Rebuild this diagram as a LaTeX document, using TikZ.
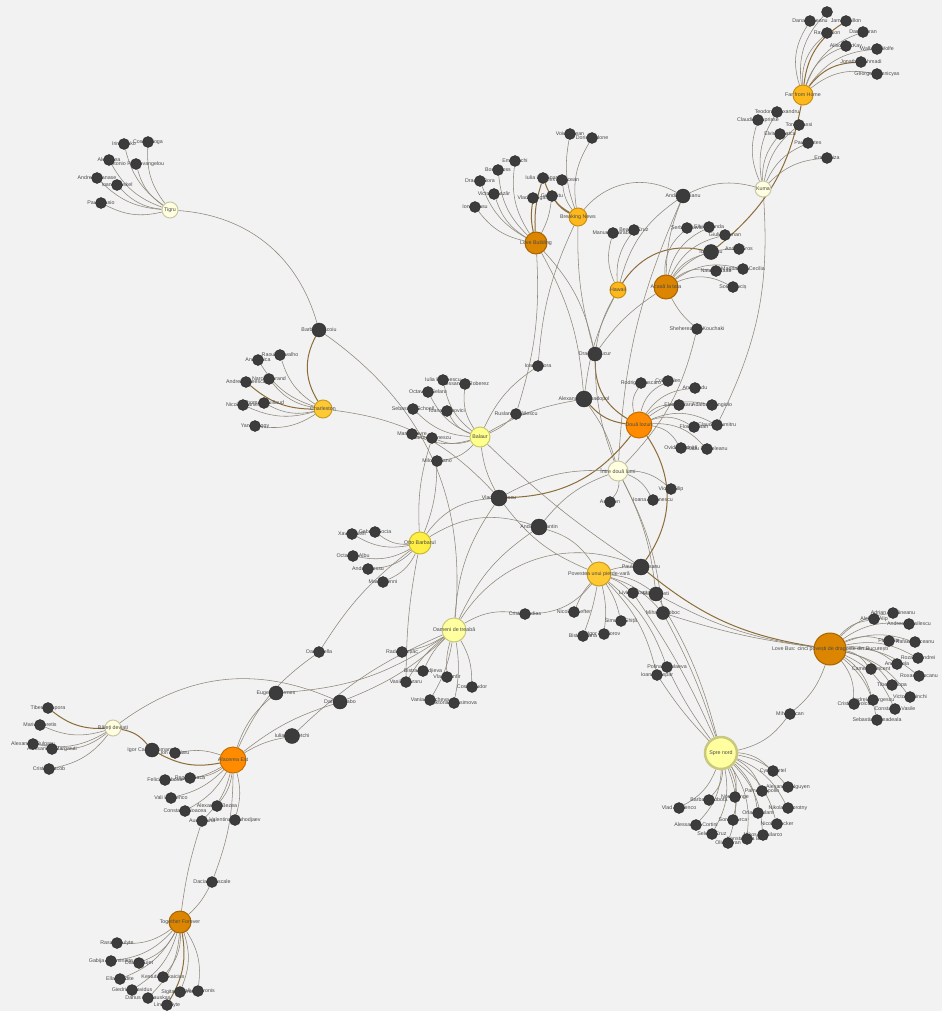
\documentclass[tikz,border=0pt]{standalone}
\usepackage{fontspec}
\setmainfont{Liberation Sans}
\definecolor{bgC}{HTML}{F2F2F2}
\definecolor{actC}{HTML}{3C3C3C}
\definecolor{actB}{HTML}{2A2A2A}
\definecolor{labC}{HTML}{4A4A4A}
\definecolor{edC}{HTML}{8E8678}
\definecolor{ebC}{HTML}{8C6C38}
\definecolor{cOY}{HTML}{FFB81C}\definecolor{bOY}{HTML}{C98E10}
\definecolor{cDO}{HTML}{DB8500}\definecolor{bDO}{HTML}{A86400}
\definecolor{cOr}{HTML}{FF8C00}\definecolor{bOr}{HTML}{C86E00}
\definecolor{cGo}{HTML}{FFC933}\definecolor{bGo}{HTML}{C89E26}
\definecolor{cCr}{HTML}{FFFFE0}\definecolor{bCr}{HTML}{C8C8A8}
\definecolor{cLY}{HTML}{FFFF8C}\definecolor{bLY}{HTML}{C8C86E}
\definecolor{cYe}{HTML}{FFEE44}\definecolor{bYe}{HTML}{C8BA35}
\definecolor{cPY}{HTML}{FFFFA0}\definecolor{bPY}{HTML}{C8C87E}
\pgfdeclarelayer{bg}\pgfdeclarelayer{edges}\pgfdeclarelayer{alab}\pgfdeclarelayer{flab}
\pgfsetlayers{bg,edges,alab,main,flab}
\tikzset{
 actor/.style={circle,fill=actC,draw=actB,line width=0.4pt,inner sep=0pt},
 film/.style={circle,line width=1pt,inner sep=0pt},
 alab/.style={font=\fontsize{5.3}{6}\selectfont,text=labC,inner sep=0pt},
 flab/.style={font=\fontsize{5.3}{6}\selectfont,text=labC,inner sep=0pt},
 edg/.style={draw=edC,line width=0.55pt},
 edgb/.style={draw=ebC,line width=1pt},
}
\newcommand{\mkact}[5][5.5]{%
  \node[actor,minimum size={2*#1pt}] (#2) at (#3,#4) {};
  \begin{pgfonlayer}{alab}\node[alab] at (#3,#4) {#5};\end{pgfonlayer}}
\newcommand{\mkfilm}[7]{%
  \node[film,fill=#5,#6,minimum size={2*#4pt}] (#1) at (#2,#3) {};
  \begin{pgfonlayer}{flab}\node[flab] at (#2,#3) {#7};\end{pgfonlayer}}
\newcommand{\EE}[3][20]{\draw[edg] (#2) to[bend left=#1] (#3);}
\newcommand{\BB}[3][20]{\draw[edgb] (#2) to[bend left=#1] (#3);}
\begin{document}
\begin{tikzpicture}[x=1pt,y=-1pt]
\useasboundingbox (0,0) rectangle (942,1011);
\begin{pgfonlayer}{bg}\fill[bgC] (0,0) rectangle (942,1011);\end{pgfonlayer}
% films
\mkfilm{ffh}{803}{95}{10}{cOY}{draw=bOY}{Far from Home}
\mkfilm{kuma}{763}{189}{8}{cCr}{draw=bCr}{Kuma}
\mkfilm{bn}{578}{217}{9}{cOY}{draw=bOY}{Breaking News}
\mkfilm{lb}{536}{243}{11}{cDO}{draw=bDO}{Love Building}
\mkfilm{haw}{618}{290}{8}{cOY}{draw=bOY}{Hawaii}
\mkfilm{acasa}{666}{287}{12}{cDO}{draw=bDO}{Acasă la tata}
\mkfilm{tigru}{170}{210}{8}{cCr}{draw=bCr}{Tigru}
\mkfilm{charl}{323}{409}{9}{cGo}{draw=bGo}{Charleston}
\mkfilm{balaur}{480}{437}{10}{cLY}{draw=bLY}{Balaur}
\mkfilm{doua}{639}{425}{13}{cOr}{draw=bOr}{Două lozuri}
\mkfilm{intre}{618}{471}{10}{cCr}{draw=bCr}{Între două lumi}
\mkfilm{otto}{420}{543}{11}{cYe}{draw=bYe}{Otto Barbarul}
\mkfilm{pov}{599}{574}{12}{cGo}{draw=bGo}{Povestea unui pierde-vară}
\mkfilm{oam}{454}{630}{12}{cPY}{draw=bPY}{Oameni de treabă}
\mkfilm{lbus}{830}{649}{16}{cDO}{draw=bDO}{Love Bus: cinci povești de dragoste din București}
\mkfilm{batai}{113}{728}{8}{cCr}{draw=bCr}{Băieți deviați}
\mkfilm{afac}{233}{760}{13}{cOr}{draw=bOr}{Afacerea Est}
\mkfilm{spre}{721}{753}{16}{cPY}{draw=bPY,line width=2.5pt}{Spre nord}
\mkfilm{tf}{180}{922}{11}{cDO}{draw=bDO}{Together Forever}
% actors: Far from Home
\mkact{a1}{827}{12}{Ilie}
\mkact{a2}{810}{21}{Dana Roșeanu}
\mkact{a3}{846}{21}{James Dillon}
\mkact{a4}{827}{33}{Ray Allison}
\mkact{a5}{863}{32}{Dan Curran}
\mkact{a6}{846}{46}{Alison McKay}
\mkact{a7}{877}{49}{Wallace Wolfe}
\mkact{a8}{861}{62}{Jonathan Ahmadi}
\mkact{a9}{877}{74}{George Komnicyas}
% Kuma
\mkact{k1}{777}{112}{Teodora Alexandru}
\mkact{k2}{758}{120}{Claudiu Ciuprisse}
\mkact{k3}{799}{125}{Tony Vlassi}
\mkact{k4}{780}{134}{Elvira Deatcu}
\mkact{k5}{808}{143}{Paul Fortes}
\mkact{k6}{827}{158}{Ema Luiza}
% Breaking News / Love Building
\mkact{b1}{570}{134}{Voicu Stean}
\mkact{b2}{592}{138}{Dorin Andone}
\mkact{b3}{543}{178}{Iulia Lumânare}
\mkact{b4}{562}{180}{Alex Potocean}
\mkact{b5}{533}{198}{Vlad Logigan}
\mkact{b6}{552}{196}{Gelu Nitu}
\mkact{l1}{515}{161}{Emil Nuchi}
\mkact{l2}{498}{170}{Boris Ross}
\mkact{l3}{480}{181}{Dragoș Bora}
\mkact{l4}{494}{194}{Victoria Lazăr}
\mkact{l5}{475}{207}{Ionuț Basu}
\mkact[7]{andi}{683}{196}{Andi Vasluianu}
\mkact{h1}{613}{233}{Manuela Harabor}
\mkact{h2}{634}{230}{Beatriz Cruz}
\mkact{c1}{687}{228}{Șerban Pavlu}
\mkact{c2}{709}{227}{Silvia Ivanda}
\mkact{c3}{725}{235}{Giulia Roman}
\mkact[7.5]{grosu}{711}{252}{Ion Grosu}
\mkact{c4}{739}{249}{Andrei Eros}
\mkact{c5}{716}{271}{Natașa Raab}
\mkact{c6}{743}{269}{Magdalena Cecilia}
\mkact{c7}{733}{287}{Sorin Cociș}
\mkact{sheh}{697}{329}{Sheherezada Kouchaki}
% Tigru
\mkact{t1}{124}{144}{Irina Boko}
\mkact{t2}{148}{142}{Costel Moga}
\mkact{t3}{109}{160}{Alex Ulea}
\mkact{t4}{136}{164}{Antonio Papaevangelou}
\mkact{t5}{97}{178}{Andreea Tanase}
\mkact{t6}{117}{185}{Ioana Raskel}
\mkact{t7}{101}{203}{Pau Rossio}
\mkact[7]{barbu}{319}{330}{Barbu Ivascoiu}
% Charleston
\mkact{ch1}{280}{355}{Raoul Carvalho}
\mkact{ch2}{258}{360}{Ana Ionica}
\mkact{ch3}{269}{379}{Narcis Durand}
\mkact{ch4}{246}{382}{Andrei Mateescu}
\mkact{ch5}{264}{403}{Thomas Guillaud}
\mkact{ch6}{243}{405}{Nicolas Vanier}
\mkact{ch7}{255}{426}{Yann Baggy}
% Balaur
\mkact{ba1}{443}{380}{Iulia Marinescu}
\mkact{ba2}{465}{384}{Alessandra Roberez}
\mkact{ba3}{428}{392}{Octavian Șelaru}
\mkact{ba4}{413}{409}{Sebastian Schoell}
\mkact{ba5}{447}{411}{Ioana Manovici}
\mkact{ba6}{412}{434}{Martin Lavre}
\mkact{ba7}{432}{438}{Carmen Ionescu}
\mkact{ba8}{437}{461}{Milos Milano}
\mkact[7]{dragos}{595}{354}{Dragoș Bucur}
\mkact{flora}{538}{366}{Ioana Flora}
\mkact[8]{papa}{584}{399}{Alexandru Papadopol}
\mkact{ruslan}{516}{414}{Ruslan Mihăilescu}
% Doua lozuri
\mkact{d1}{641}{383}{Rodrigo Mascaro}
\mkact{d2}{668}{381}{Colin Allen}
\mkact{d3}{695}{388}{Andi Radu}
\mkact{d4}{679}{405}{Eleni Rotaru}
\mkact{d5}{712}{405}{Adalba Ciangiolo}
\mkact{d6}{694}{427}{Florina Stan}
\mkact{d7}{717}{425}{Claudiu Dumitru}
\mkact{d8}{681}{448}{Ovidiu Ghiniță}
\mkact{d9}{707}{449}{Radu Berbeleanu}
% Intre
\mkact{i1}{671}{489}{Victor Filip}
\mkact{i2}{653}{500}{Ioana Antonescu}
\mkact{i3}{610}{502}{Ana Ven}
\mkact[8]{vlad}{499}{498}{Vlad Vasilescu}
\mkact[8]{aconst}{539}{527}{Andi Constantin}
% Otto
\mkact{o1}{352}{534}{Xavier Bielli}
\mkact{o2}{375}{532}{Gabriel Gocia}
\mkact{o3}{353}{556}{Octavian Albu}
\mkact{o4}{368}{569}{Andrei Rossu}
\mkact{o5}{383}{582}{Mario Renni}
% Povestea
\mkact[8]{paul}{641}{567}{Paula Dobreanu}
\mkact{liviu}{633}{593}{Liviu Lucaci}
\mkact[7]{costi}{656}{594}{Mihai Costi}
\mkact[6.5]{toboc}{663}{613}{Mihaela Toboc}
\mkact{fund}{525}{614}{Cristi Fundias}
\mkact{lefter}{574}{612}{Nicoleta Lefter}
\mkact{p1}{621}{621}{Simona Ghiță}
\mkact{p2}{583}{636}{Bistra Ioana}
\mkact{p3}{604}{634}{Igor Teodorov}
\mkact{polina}{667}{667}{Polina Nikolaeva}
\mkact{gaspar}{657}{675}{Ioana Gaspar}
% Oameni
\mkact{radu}{402}{652}{Radu Bânțiac}
\mkact{q1}{423}{671}{Bistra Pandjieva}
\mkact{q2}{447}{677}{Vlad Zamfir}
\mkact{muraru}{406}{682}{Vasile Muraru}
\mkact{q3}{472}{687}{Costel Tudor}
\mkact{q4}{430}{700}{Vania Boncheva}
\mkact{q5}{454}{703}{Viktoria Maksimova}
% Love Bus
\mkact{lb1}{893}{613}{Adrian Ciorăneanu}
\mkact{lb2}{874}{619}{Aleksei Alip}
\mkact{lb3}{909}{624}{Andreea Vasilescu}
\mkact{lb4}{889}{641}{Florin Ilie}
\mkact{lb5}{915}{642}{Rafael Ianceanu}
\mkact{lb6}{918}{658}{Rozalia Andrei}
\mkact{lb7}{897}{664}{Anca Sela}
\mkact{lb8}{919}{676}{Roxana Pocanu}
\mkact{lb9}{871}{669}{Camelia Vincent}
\mkact{lb10}{892}{685}{Tiberiu Popa}
\mkact{lb11}{910}{697}{Victoria Rinchi}
\mkact{lb12}{873}{700}{Andrei Georgescu}
\mkact{lb13}{854}{704}{Cristina Dolcu}
\mkact{lb14}{895}{709}{Constantin Vasile}
\mkact{lb15}{877}{720}{Sebastian Smadeala}
\mkact{cican}{790}{714}{Mihai Cican}
% Batai
\mkact{bt1}{48}{708}{Tiberiu Sopora}
\mkact{bt2}{40}{725}{Marius Loretis}
\mkact{bt3}{33}{744}{Alexandru Bulgaru}
\mkact{bt4}{52}{749}{Aleksandra Margaiuti}
\mkact{bt5}{49}{769}{Cristian Iacob}
% Afacerea
\mkact{oana}{319}{652}{Oana Pella}
\mkact[7]{eugen}{276}{693}{Eugen Ghermes}
\mkact[7]{szabo}{340}{702}{Daniel Szabo}
\mkact[7.5]{iulian}{292}{736}{Iulian Dovetchi}
\mkact[7]{igor}{152}{750}{Igor Caras-Romanov}
\mkact{sapd}{175}{753}{Ion Sapdaru}
\mkact{f1}{165}{780}{Felicia Dubova}
\mkact{f2}{190}{778}{Regina Baca}
\mkact{f3}{171}{798}{Vali Ignatenco}
\mkact{f4}{217}{806}{Alexandru Bezea}
\mkact{f5}{185}{811}{Constantin Ioacea}
\mkact{f6}{202}{821}{Aura Ioana}
\mkact{f7}{235}{820}{Valentina Sophodjaev}
\mkact{dacian}{212}{882}{Dacian Cascale}
% Spre nord
\mkact{s1}{773}{771}{Cyril Durtel}
\mkact{s2}{788}{787}{Alexander Nguyen}
\mkact{s3}{762}{791}{Pamela Apollo}
\mkact{s4}{735}{797}{Noel Bringe}
\mkact{s5}{709}{800}{Barbara Sobota}
\mkact{s6}{679}{808}{Vlad Ruglenco}
\mkact{s7}{788}{808}{Nikolai Dvorotny}
\mkact{s8}{758}{813}{Orla Carolant}
\mkact{s9}{733}{820}{Sonia Furca}
\mkact{s10}{777}{824}{Nicole Decker}
\mkact{s11}{696}{825}{Alessandra Cortini}
\mkact{s12}{712}{834}{Selena Cruz}
\mkact{s13}{763}{835}{Nikos Vassilarco}
\mkact{s14}{747}{839}{Konstantina Bara}
\mkact{s15}{728}{843}{Olivia Tran}
% Together Forever
\mkact{tf1}{117}{943}{Rasa Jakulyte}
\mkact{tf2}{111}{961}{Gabija Jaraminaite}
\mkact{tf3}{139}{963}{Darija Gujet}
\mkact{tf4}{120}{979}{Ella Gordite}
\mkact{tf5}{163}{977}{Kestutis Sakaicius}
\mkact{tf6}{132}{990}{Giedrius Navidus}
\mkact{tf7}{148}{998}{Darius Gumauskas}
\mkact{tf8}{180}{992}{Sigita Jonynaite}
\mkact{tf9}{198}{991}{Dalius Varonis}
\mkact{tf10}{167}{1005}{Lina Kelyte}
% ---------------- edges
\begin{pgfonlayer}{edges}
\EE[25]{ffh}{a1}\EE[25]{ffh}{a2}\BB[25]{ffh}{a3}\EE[25]{ffh}{a4}\EE[25]{ffh}{a5}
\EE[25]{ffh}{a6}\EE[25]{ffh}{a7}\BB[25]{ffh}{a8}\EE[25]{ffh}{a9}
\EE[20]{kuma}{k1}\EE[20]{kuma}{k2}\EE[20]{kuma}{k3}\EE[20]{kuma}{k4}\EE[20]{kuma}{k5}\EE[20]{kuma}{k6}
\EE[20]{andi}{kuma}\EE[15]{kuma}{d7}
\BB[20]{ffh}{grosu}\BB[-35]{grosu}{haw}\EE[20]{acasa}{grosu}
\EE[25]{acasa}{c1}\EE[25]{acasa}{c2}\EE[25]{acasa}{c3}\EE[25]{acasa}{c4}\EE[25]{acasa}{c5}\EE[25]{acasa}{c6}\EE[25]{acasa}{c7}
\EE[10]{acasa}{andi}\EE[-10]{acasa}{sheh}\EE[15]{sheh}{intre}
\EE[20]{haw}{h1}\EE[20]{haw}{h2}\EE[20]{haw}{andi}\EE[-10]{haw}{dragos}\EE[-10]{haw}{papa}
\EE[15]{bn}{b1}\EE[20]{bn}{b2}\BB[20]{bn}{b3}\EE[15]{bn}{b4}\BB[15]{bn}{b6}
\EE[40]{bn}{andi}\EE[-8]{bn}{dragos}\EE[-10]{bn}{flora}
\EE[20]{lb}{l1}\EE[20]{lb}{l2}\EE[20]{lb}{l3}\EE[20]{lb}{l4}\EE[20]{lb}{l5}
\BB[10]{lb}{b5}\BB[10]{lb}{b3}\EE[-10]{lb}{b6}
\EE[15]{lb}{dragos}\EE[12]{lb}{papa}\EE[-10]{ruslan}{lb}
\EE[-10]{andi}{intre}
\BB[-30]{dragos}{doua}\BB[-20]{papa}{doua}
\EE[-10]{dragos}{intre}\EE[10]{papa}{intre}\EE[10]{dragos}{acasa}
\EE[-10]{papa}{balaur}\EE[-15]{flora}{balaur}\EE[10]{ruslan}{balaur}
\EE[25]{doua}{d1}\EE[25]{doua}{d2}\EE[25]{doua}{d3}\EE[25]{doua}{d4}\EE[25]{doua}{d5}
\EE[25]{doua}{d6}\EE[25]{doua}{d7}\EE[25]{doua}{d8}\EE[25]{doua}{d9}
\BB[35]{doua}{paul}\BB[-25]{vlad}{doua}
\EE[20]{intre}{i1}\EE[20]{intre}{i2}\EE[20]{intre}{i3}
\EE[-15]{intre}{vlad}\EE[-15]{intre}{aconst}\EE[10]{intre}{costi}\EE[10]{intre}{toboc}
\EE[20]{balaur}{ba1}\EE[20]{balaur}{ba2}\EE[20]{balaur}{ba3}\EE[20]{balaur}{ba4}
\EE[20]{balaur}{ba5}\EE[20]{balaur}{ba6}\EE[20]{balaur}{ba7}\EE[20]{balaur}{ba8}
\EE[-10]{balaur}{vlad}\EE[-5]{balaur}{paul}
\EE[20]{charl}{ch1}\EE[20]{charl}{ch2}\EE[20]{charl}{ch3}\BB[20]{charl}{ch4}
\EE[20]{charl}{ch5}\EE[20]{charl}{ch6}\EE[20]{charl}{ch7}
\BB[-30]{barbu}{charl}\EE[20]{charl}{vlad}\EE[30]{barbu}{oam}\EE[35]{tigru}{barbu}
\EE[20]{tigru}{t1}\EE[20]{tigru}{t2}\EE[20]{tigru}{t3}\EE[20]{tigru}{t4}
\EE[20]{tigru}{t5}\EE[20]{tigru}{t6}\EE[20]{tigru}{t7}
\EE[20]{otto}{o1}\EE[20]{otto}{o2}\EE[20]{otto}{o3}\EE[20]{otto}{o4}\EE[20]{otto}{o5}
\EE[25]{otto}{vlad}\EE[25]{otto}{aconst}\EE[10]{otto}{ba7}\EE[-10]{otto}{ba8}
\EE[-10]{otto}{oana}\EE[-5]{otto}{muraru}
\EE[20]{aconst}{pov}\EE[-15]{aconst}{oam}\EE[15]{oam}{vlad}\EE[-15]{vlad}{pov}
\EE[10]{pov}{paul}\EE[10]{pov}{liviu}\EE[15]{pov}{costi}\EE[15]{pov}{toboc}
\EE[-10]{pov}{lefter}\EE[10]{pov}{p1}\EE[5]{pov}{p2}\EE[10]{pov}{p3}
\EE[15]{pov}{polina}\EE[15]{pov}{gaspar}
\EE[40]{oam}{paul}\EE[20]{oam}{fund}\EE[-25]{fund}{pov}
\EE[10]{oam}{radu}\EE[-10]{oam}{q1}\EE[-10]{oam}{q2}\EE[-10]{oam}{muraru}
\EE[15]{oam}{q3}\EE[10]{oam}{q4}\EE[10]{oam}{q5}
\EE[15]{oam}{eugen}\EE[10]{oam}{szabo}\EE[-10]{oam}{iulian}
\EE[-5]{polina}{spre}\EE[-5]{gaspar}{spre}\EE[8]{costi}{spre}\EE[5]{toboc}{spre}\EE[5]{liviu}{spre}
\BB[-15]{paul}{lbus}\EE[-10]{costi}{lbus}\EE[-5]{toboc}{lbus}
\EE[20]{lbus}{lb1}\EE[20]{lbus}{lb2}\EE[20]{lbus}{lb3}\EE[20]{lbus}{lb4}\EE[20]{lbus}{lb5}
\EE[20]{lbus}{lb6}\EE[20]{lbus}{lb7}\EE[20]{lbus}{lb8}\EE[20]{lbus}{lb9}\EE[20]{lbus}{lb10}
\EE[20]{lbus}{lb11}\EE[20]{lbus}{lb12}\EE[20]{lbus}{lb13}\EE[20]{lbus}{lb14}\EE[20]{lbus}{lb15}
\EE[15]{lbus}{cican}\EE[20]{cican}{spre}
\EE[20]{spre}{s1}\EE[20]{spre}{s2}\EE[20]{spre}{s3}\EE[20]{spre}{s4}\EE[20]{spre}{s5}
\EE[20]{spre}{s6}\EE[20]{spre}{s7}\EE[20]{spre}{s8}\EE[20]{spre}{s9}\EE[20]{spre}{s10}
\EE[20]{spre}{s11}\EE[20]{spre}{s12}\EE[20]{spre}{s13}\EE[20]{spre}{s14}\EE[20]{spre}{s15}
\BB[20]{batai}{bt1}\EE[20]{batai}{bt2}\EE[20]{batai}{bt3}\EE[20]{batai}{bt4}\EE[20]{batai}{bt5}
\BB[20]{batai}{igor}\BB[-20]{igor}{afac}\EE[30]{batai}{szabo}
\EE[-15]{afac}{sapd}\EE[15]{afac}{f1}\EE[15]{afac}{f2}\EE[15]{afac}{f3}\EE[15]{afac}{f4}
\EE[15]{afac}{f5}\EE[15]{afac}{f6}\EE[15]{afac}{f7}
\EE[15]{afac}{eugen}\EE[15]{afac}{oana}\EE[10]{afac}{szabo}\EE[10]{afac}{iulian}
\EE[10]{afac}{dacian}\EE[-10]{tf}{dacian}\EE[5]{tf}{f6}
\EE[20]{tf}{tf1}\EE[20]{tf}{tf2}\EE[20]{tf}{tf3}\EE[20]{tf}{tf4}\EE[20]{tf}{tf5}
\EE[20]{tf}{tf6}\EE[20]{tf}{tf7}\EE[20]{tf}{tf8}\EE[20]{tf}{tf9}\BB[20]{tf}{tf10}
\end{pgfonlayer}
\end{tikzpicture}
\end{document}
